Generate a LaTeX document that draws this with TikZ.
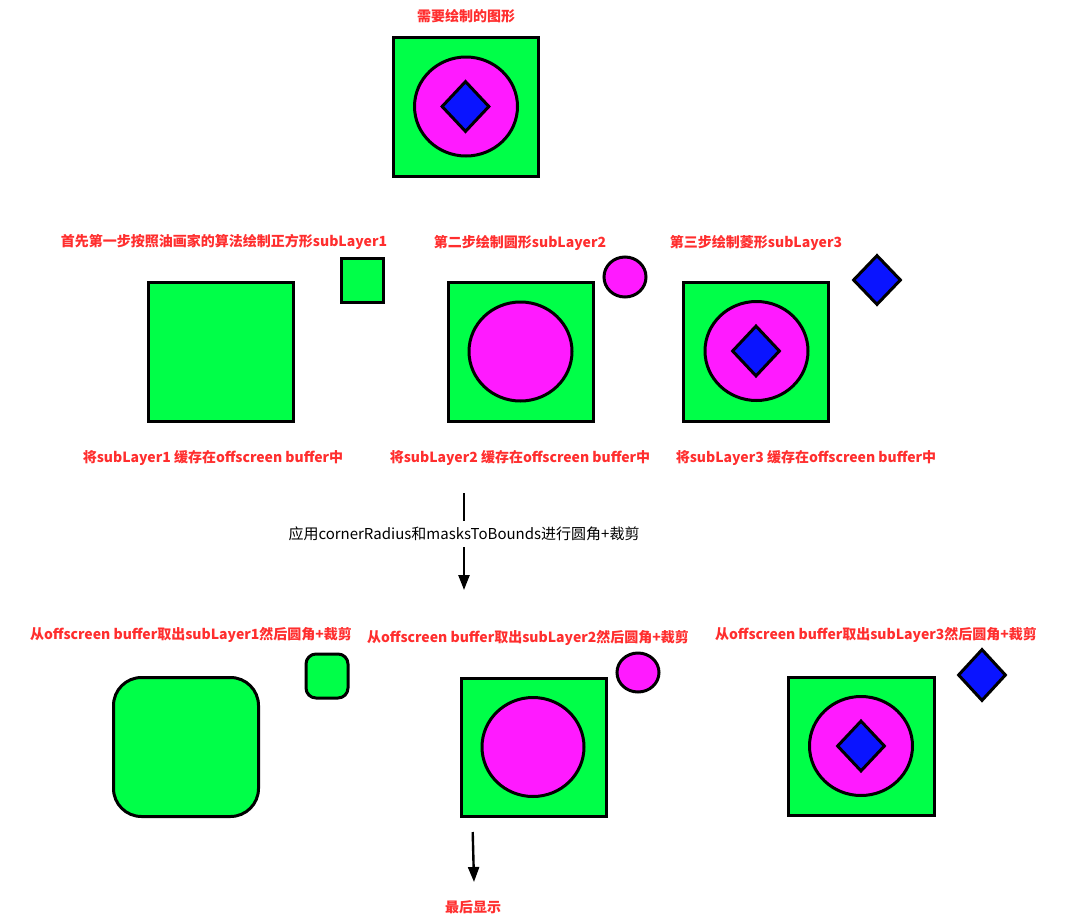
\documentclass[tikz,border=0pt]{standalone}
\usepackage{fontspec}
\newfontfamily\cjk{Noto Sans CJK SC}
\usetikzlibrary{arrows.meta,shapes.geometric}
\definecolor{layGreen}{HTML}{00FF48}
\definecolor{layPink}{HTML}{FF1AFF}
\definecolor{layBlue}{HTML}{0A14FF}
\definecolor{noteRed}{HTML}{FF2E2E}

\begin{document}
\begin{tikzpicture}[x=1pt,y=-1pt,outl/.style={draw,line width=3pt,inner sep=0pt},sq/.style={outl,fill=layGreen,minimum width=145pt,minimum height=139pt},minisq/.style={outl,fill=layGreen,minimum width=42pt,minimum height=44pt},disc/.style={outl,ellipse,fill=layPink,minimum width=103pt,minimum height=99pt},minidisc/.style={outl,ellipse,fill=layPink,minimum width=42pt,minimum height=40pt},gem/.style={outl,diamond,fill=layBlue,minimum width=48pt,minimum height=51pt},note/.style={text=noteRed,font=\cjk\bfseries\fontsize{14}{16}\selectfont},arr/.style={-{Triangle[length=15pt,width=11pt]},line width=2.4pt}]
    \useasboundingbox (0,0) rectangle (1077,924);
    \node[note] (goal) at (466,16) {需要绘制的图形};
    \node[sq] (g0) at (465.5,107) {};
    \node[disc] (g1) at (466,106.5) {};
    \node[gem] (g2) at (465.5,106.5) {};
    \node[note] (t1) at (224,242) {首先第一步按照油画家的算法绘制正方形subLayer1};
    \node[note] (t2) at (520,243) {第二步绘制圆形subLayer2};
    \node[note] (t3) at (756,243) {第三步绘制菱形subLayer3};
    \node[sq] (a0) at (220.5,351.5) {};
    \node[minisq] (a1) at (362,280) {};
    \node[sq] (b0) at (520.5,351.5) {};
    \node[disc] (b1) at (520.5,351.5) {};
    \node[minidisc] (b2) at (625,277) {};
    \node[sq] (c0) at (756,351.5) {};
    \node[disc] (c1) at (756.5,351) {};
    \node[gem] (c2) at (756,351) {};
    \node[gem,minimum height=50pt] (c3) at (877,280) {};
    \node[note] (s1) at (213,458) {将subLayer1 缓存在offscreen buffer中};
    \node[note] (s2) at (520,458) {将subLayer2 缓存在offscreen buffer中};
    \node[note] (s3) at (806,458) {将subLayer3 缓存在offscreen buffer中};
    \coordinate (in) at (464,493);
    \node[font=\cjk\fontsize{15}{17}\selectfont,inner ysep=6pt] (apply) at (464,534) {应用cornerRadius和masksToBounds进行圆角+裁剪};
    \coordinate (out) at (464,590);
    \draw[line width=2.4pt] (in)--(apply.north);
    \draw[arr] (apply.south)--(out);
    \node[note] (u1) at (191,635) {从offscreen buffer取出subLayer1然后圆角+裁剪};
    \node[note] (u2) at (528,638) {从offscreen buffer取出subLayer2然后圆角+裁剪};
    \node[note] (u3) at (876,635) {从offscreen buffer取出subLayer3然后圆角+裁剪};
    \node[sq,rounded corners=28pt] (d0) at (186,747) {};
    \node[minisq,rounded corners=10pt] (d1) at (327,676) {};
    \node[sq,minimum height=138pt] (e0) at (533.5,747) {};
    \node[disc,minimum width=102pt] (e1) at (533,747) {};
    \node[minidisc,minimum height=39pt] (e2) at (638,672.5) {};
    \node[sq,minimum width=146pt,minimum height=138pt] (f0) at (861,746) {};
    \node[disc] (f1) at (861,746) {};
    \node[gem] (f2) at (861,746) {};
    \node[gem,minimum height=52pt] (f3) at (982,675) {};
    \coordinate (last) at (472.7,832);
    \coordinate (tip) at (474,882);
    \node[note] (show) at (473,907) {最后显示};
    \draw[arr] (last)--(tip);
  \end{tikzpicture}
\end{document}
